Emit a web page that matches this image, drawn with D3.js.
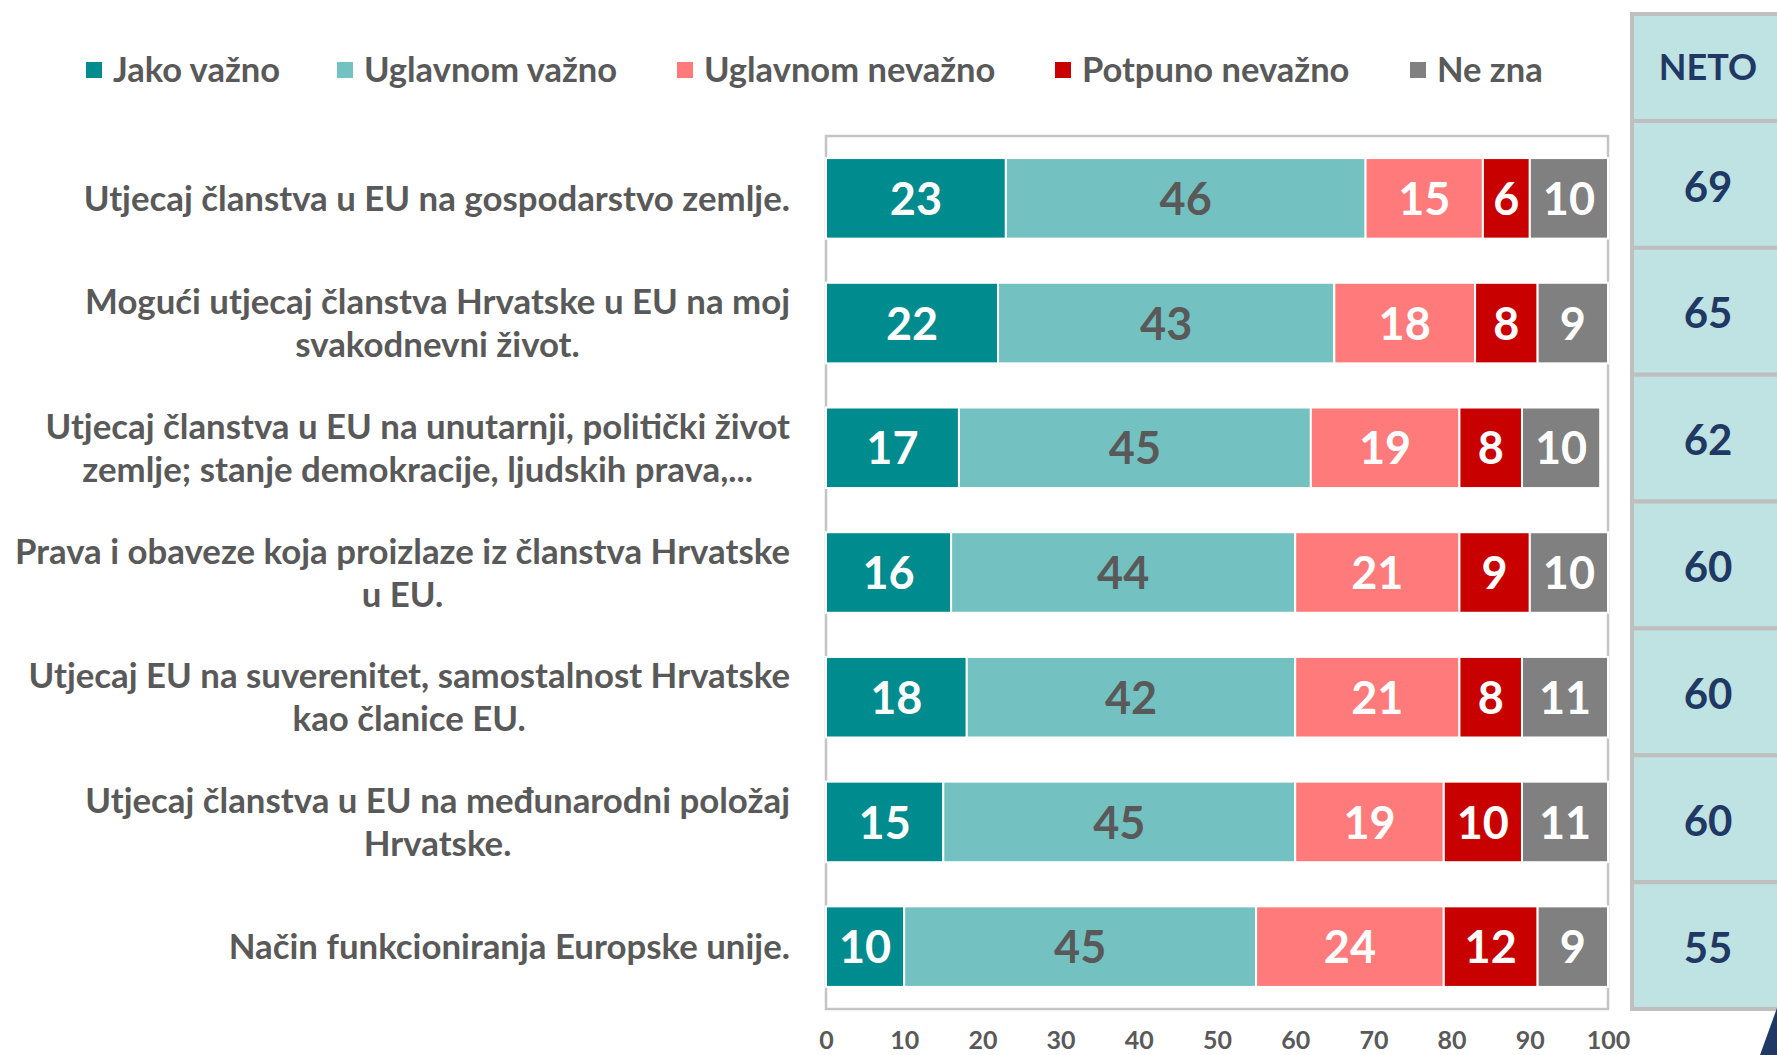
<!DOCTYPE html>
<html>
<head>
<meta charset="utf-8">
<script src="https://cdn.jsdelivr.net/npm/d3@7"></script>
<style>
  body { margin: 0; background: #fff; }
  text { font-family: Lato, "Open Sans", sans-serif; font-weight: 700; }
</style>
</head>
<body>
<script>
// categories (line breaks as in the original slide)
var categories = [
  "Utjecaj članstva u EU na gospodarstvo zemlje.",
  "Mogući utjecaj članstva Hrvatske u EU na moj\nsvakodnevni život.",
  "Utjecaj članstva u EU na unutarnji, politički život\nzemlje; stanje demokracije, ljudskih prava,...",
  "Prava i obaveze koja proizlaze iz članstva Hrvatske\nu EU.",
  "Utjecaj EU na suverenitet, samostalnost Hrvatske\nkao članice EU.",
  "Utjecaj članstva u EU na međunarodni položaj\nHrvatske.",
  "Način funkcioniranja Europske unije."
];
var seriesNames = ["Jako važno", "Uglavnom važno", "Uglavnom nevažno", "Potpuno nevažno", "Ne zna"];
var jakoVazno      = [23, 22, 17, 16, 18, 15, 10];
var uglavnomVazno  = [46, 43, 45, 44, 42, 45, 45];
var uglavnomNevazno= [15, 18, 19, 21, 21, 19, 24];
var potpunoNevazno = [6, 8, 8, 9, 8, 10, 12];
var neZna          = [10, 9, 10, 10, 11, 11, 9];
var neto           = [69, 65, 62, 60, 60, 60, 55];
var xTicks = [0, 10, 20, 30, 40, 50, 60, 70, 80, 90, 100];

var colors = ["#008b8e", "#73c2c1", "#ff7b7b", "#c80000", "#808080"];
var labelColors = ["#ffffff", "#595959", "#ffffff", "#ffffff", "#ffffff"];

var width = 1777, height = 1055;

var svg = d3.select("body").append("svg")
    .attr("width", width)
    .attr("height", height);

// build rows for the stack
var rows = categories.map(function(c, i) {
  return {cat: c, "Jako važno": jakoVazno[i], "Uglavnom važno": uglavnomVazno[i],
          "Uglavnom nevažno": uglavnomNevazno[i], "Potpuno nevažno": potpunoNevazno[i], "Ne zna": neZna[i]};
});
var stacked = d3.stack().keys(seriesNames)(rows);

var plot = {left: 826, right: 1608, top: 136, bottom: 1009};

var x = d3.scaleLinear().domain([0, 100]).range([plot.left, plot.right]);
var y = d3.scaleBand().domain(categories).range([plot.top, plot.bottom])
    .paddingInner(0.354).paddingOuter(0.177);

// plot frame
svg.append("rect")
  .attr("x", plot.left).attr("y", plot.top)
  .attr("width", plot.right - plot.left).attr("height", plot.bottom - plot.top)
  .attr("fill", "#fff").attr("stroke", "#c4c4c4").attr("stroke-width", 2.5);

// bars
var layer = svg.append("g").selectAll("g")
  .data(stacked).enter().append("g")
  .attr("fill", function(d, i) { return colors[i]; });

layer.selectAll("rect")
  .data(function(d) { return d; })
  .enter().append("rect")
  .attr("x", function(d) { return x(d[0]); })
  .attr("y", function(d) { return y(d.data.cat); })
  .attr("width", function(d) { return x(d[1]) - x(d[0]); })
  .attr("height", y.bandwidth())
  .attr("stroke", "#fff").attr("stroke-width", 2);

// value labels
stacked.forEach(function(s, si) {
  svg.append("g").selectAll("text")
    .data(s).enter().append("text")
    .attr("x", function(d) { return (x(d[0]) + x(d[1])) / 2; })
    .attr("y", function(d) { return y(d.data.cat) + y.bandwidth() / 2; })
    .attr("dy", "0.37em")
    .attr("text-anchor", "middle")
    .attr("font-size", 45)
    .attr("fill", labelColors[si])
    .text(function(d) { return d[1] - d[0]; });
});

// x axis
var xAxis = svg.append("g")
  .attr("transform", "translate(0," + (plot.bottom + 22) + ")")
  .call(d3.axisBottom(x).tickValues(xTicks).tickSize(0).tickPadding(0));
xAxis.select(".domain").remove();
xAxis.selectAll("text")
  .attr("font-family", "Lato")
  .attr("font-size", 25)
  .attr("fill", "#595959")
  .attr("dy", "0.71em");

// category labels: block right aligned, lines centered within the block
var labelRight = 790, lineH = 43;
categories.forEach(function(c) {
  var lines = c.split("\n");
  var g = svg.append("g");
  var cy = y(c) + y.bandwidth() / 2;
  var texts = lines.map(function(l, li) {
    return g.append("text")
      .attr("y", cy + (li - (lines.length - 1) / 2) * lineH)
      .attr("dy", "0.36em")
      .attr("font-size", 34.8)
      .attr("fill", "#595959")
      .text(l);
  });
  var maxW = d3.max(texts, function(t) { return t.node().getComputedTextLength(); });
  texts.forEach(function(t) {
    t.attr("text-anchor", "middle").attr("x", labelRight - maxW / 2);
  });
});

// legend
var legendX = [86, 337, 677, 1055, 1410];
var legend = svg.append("g").selectAll("g")
  .data(seriesNames).enter().append("g")
  .attr("transform", function(d, i) { return "translate(" + legendX[i] + ",70)"; });
legend.append("rect")
  .attr("x", 0).attr("y", -8).attr("width", 16).attr("height", 16)
  .attr("fill", function(d, i) { return colors[i]; });
legend.append("text")
  .attr("x", 27).attr("dy", "0.36em")
  .attr("font-size", 34.5)
  .attr("fill", "#595959")
  .text(function(d) { return d; });

// NETO panel
var panelX = 1632, panelW = 160, headTop = 14, headBottom = 121;
var yNeto = d3.scaleBand().domain(categories).range([headBottom, plot.bottom]);
var panel = svg.append("g");
panel.append("rect")
  .attr("x", panelX).attr("y", headTop)
  .attr("width", panelW).attr("height", headBottom - headTop)
  .attr("fill", "#bfe2e2").attr("stroke", "#bfbfbf").attr("stroke-width", 4);
panel.selectAll(".cell")
  .data(categories).enter().append("rect")
  .attr("class", "cell")
  .attr("x", panelX).attr("y", function(d) { return yNeto(d); })
  .attr("width", panelW).attr("height", yNeto.bandwidth())
  .attr("fill", "#bfe2e2").attr("stroke", "#bfbfbf").attr("stroke-width", 4);
panel.append("text")
  .attr("x", 1708).attr("y", (headTop + headBottom) / 2)
  .attr("dy", "0.36em").attr("text-anchor", "middle")
  .attr("font-size", 36).attr("fill", "#1f3864")
  .text("NETO");
panel.selectAll(".netoVal")
  .data(neto).enter().append("text")
  .attr("class", "netoVal")
  .attr("x", 1708)
  .attr("y", function(d, i) { return yNeto(categories[i]) + yNeto.bandwidth() / 2 + 2; })
  .attr("dy", "0.36em").attr("text-anchor", "middle")
  .attr("font-size", 42).attr("fill", "#1f3864")
  .text(function(d) { return d; });

// decorative corner shape
svg.append("polygon")
  .attr("points", "1760,1055 1777,1008 1777,1055")
  .attr("fill", "#1f3864");
</script>
</body>
</html>
